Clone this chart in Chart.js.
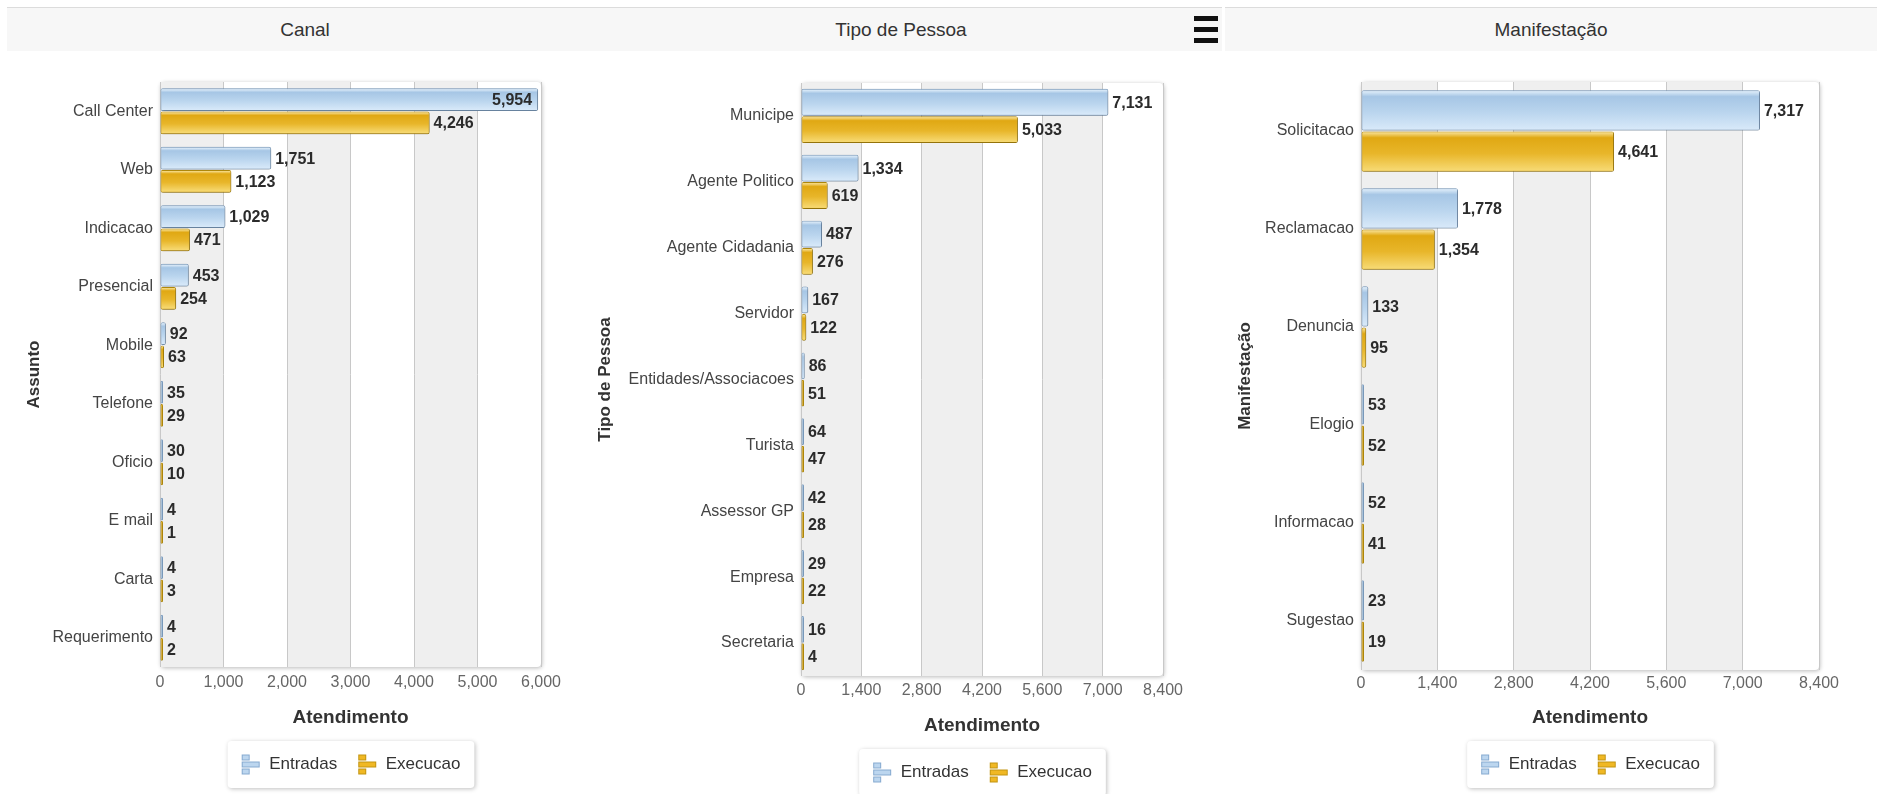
<!DOCTYPE html>
<html>
<head>
<meta charset="utf-8">
<script src="https://cdn.jsdelivr.net/npm/chart.js@4/dist/chart.umd.min.js"></script>
<style>
body { margin: 0; width: 1877px; height: 794px; overflow: hidden; background: #fff; font-family: "Liberation Sans", Arial, sans-serif; }
.hdr { position: absolute; top: 7px; height: 43px; background: #f7f7f7; border-top: 1px solid #dcdcdc; color: #333; font-size: 19px; line-height: 43px; text-align: center; }
.menu { position: absolute; left: 1194px; top: 16px; width: 24px; }
.menu div { height: 5px; background: #111; margin-bottom: 6px; }
canvas { position: absolute; }
</style>
</head>
<body>
<div class="hdr" style="left:7px;width:596px">Canal</div>
<div class="hdr" style="left:580px;width:642px">Tipo de Pessoa</div>
<div class="hdr" style="left:1225px;width:652px">Manifestação</div>
<div class="menu"><div></div><div></div><div></div></div>

<canvas id="c1" width="596" height="744" style="left:7px;top:50px"></canvas>
<canvas id="c2" width="637" height="751" style="left:585px;top:50px"></canvas>
<canvas id="c3" width="652" height="744" style="left:1225px;top:50px"></canvas>

<script>
// Canal
let canalLabels = ['Call Center', 'Web', 'Indicacao', 'Presencial', 'Mobile', 'Telefone', 'Oficio', 'E mail', 'Carta', 'Requerimento']
let canalEntradas = [5954, 1751, 1029, 453, 92, 35, 30, 4, 4, 4]
let canalExecucao = [4246, 1123, 471, 254, 63, 29, 10, 1, 3, 2]

// Tipo de Pessoa
let pessoaLabels = ['Municipe', 'Agente Politico', 'Agente Cidadania', 'Servidor', 'Entidades/Associacoes', 'Turista', 'Assessor GP', 'Empresa', 'Secretaria']
let pessoaEntradas = [7131, 1334, 487, 167, 86, 64, 42, 29, 16]
let pessoaExecucao = [5033, 619, 276, 122, 51, 47, 28, 22, 4]

// Manifestacao
let manifLabels = ['Solicitacao', 'Reclamacao', 'Denuncia', 'Elogio', 'Informacao', 'Sugestao']
let manifEntradas = [7317, 1778, 133, 53, 52, 23]
let manifExecucao = [4641, 1354, 95, 52, 41, 19]

let seriesNames = ['Entradas', 'Execucao']

Chart.defaults.font.family = '"Liberation Sans", Arial, sans-serif'

let grads = [
    ['#dfedf9', '#a6c6e5', '#bad5ee', '#d8e9f9'],
    ['#f8e093', '#e0a813', '#e8b62a', '#f7da74']
]

let legendIcon = function(fill, stroke) {
    let c = document.createElement('canvas')
    c.width = 20
    c.height = 22
    let g = c.getContext('2d')
    g.fillStyle = fill
    g.strokeStyle = stroke
    let rects = [[1.5, 1.5, 7, 5], [1.5, 8.5, 17, 5], [1.5, 15.5, 7, 5]]
    rects.forEach(r => { g.fillRect(r[0], r[1], r[2], r[3]); g.strokeRect(r[0], r[1], r[2], r[3]) })
    return c
}
let icons = [legendIcon('#bcd6ef', '#86aad0'), legendIcon('#f0b824', '#c39410')]

let panelPlugin = {
    id: 'panel',
    beforeDraw(chart) {
        let ctx = chart.ctx
        let a = chart.chartArea
        let x = chart.scales.x
        ctx.save()
        ctx.shadowColor = 'rgba(0,0,0,0.28)'
        ctx.shadowBlur = 4
        ctx.shadowOffsetX = 1
        ctx.shadowOffsetY = 1
        ctx.fillStyle = '#fff'
        ctx.beginPath()
        ctx.roundRect(a.left, a.top, a.width, a.height, 4)
        ctx.fill()
        ctx.restore()
        ctx.save()
        ctx.fillStyle = '#efefef'
        x.ticks.forEach((t, i) => {
            if (i % 2 === 1) {
                let l = x.getPixelForValue(x.ticks[i - 1].value)
                let r = x.getPixelForValue(t.value)
                ctx.fillRect(l, a.top, r - l, a.height)
            }
        })
        ctx.restore()

        // legend frame
        let boxes = chart.legend.legendHitBoxes
        if (boxes && boxes.length) {
            let l = Math.min(...boxes.map(b => b.left)) - 13
            let r = Math.max(...boxes.map(b => b.left + b.width)) + 14
            let t = Math.min(...boxes.map(b => b.top)) - 15
            let btm = Math.max(...boxes.map(b => b.top + b.height)) + 15
            ctx.save()
            ctx.shadowColor = 'rgba(0,0,0,0.25)'
            ctx.shadowBlur = 4
            ctx.shadowOffsetX = 1
            ctx.shadowOffsetY = 1
            ctx.fillStyle = '#fff'
            ctx.beginPath()
            ctx.roundRect(l, t, r - l, btm - t, 4)
            ctx.fill()
            ctx.restore()
        }
    },
    beforeDatasetsDraw(chart) {
        let ctx = chart.ctx
        ctx.save()
        ctx.shadowColor = 'rgba(0,0,0,0.3)'
        ctx.shadowBlur = 3
        ctx.shadowOffsetX = 1
        ctx.shadowOffsetY = 1
    },
    afterDatasetsDraw(chart) {
        let ctx = chart.ctx
        ctx.restore()
        let area = chart.chartArea
        chart.data.datasets.forEach((ds, di) => {
            let meta = chart.getDatasetMeta(di)
            meta.data.forEach((el, i) => {
                let p = el.getProps(['x', 'y', 'base', 'height'], true)
                let top = p.y - p.height / 2 + 1
                let bot = p.y + p.height / 2 - 1
                let l = p.base + 1
                let r = p.x - 1
                if (r - l > 1) {
                    let g = ctx.createLinearGradient(0, top, 0, bot)
                    g.addColorStop(0, grads[di][0])
                    g.addColorStop(0.14, grads[di][1])
                    g.addColorStop(0.55, grads[di][2])
                    g.addColorStop(1, grads[di][3])
                    ctx.fillStyle = g
                    ctx.fillRect(l, top, r - l, bot - top)
                }
                // value label
                let txt = ds.data[i].toLocaleString('en-US')
                ctx.font = 'bold 16px "Liberation Sans", Arial, sans-serif'
                ctx.fillStyle = '#2b2b2b'
                ctx.textBaseline = 'middle'
                let w = ctx.measureText(txt).width
                if (p.x + 6 + w > area.right - 2) {
                    ctx.textAlign = 'right'
                    ctx.fillText(txt, p.x - 6, p.y + 1)
                } else {
                    ctx.textAlign = 'left'
                    ctx.fillText(txt, p.x + 4, p.y + 1)
                }
            })
        })
    }
}

let makeChart = function(id, labels, entradas, execucao, cfg) {
    return new Chart(document.getElementById(id), {
        type: 'bar',
        data: {
            labels: labels,
            datasets: [
                {
                    label: seriesNames[0],
                    data: entradas,
                    backgroundColor: '#b0cdea',
                    borderColor: '#7e9fc2',
                    borderWidth: 1,
                    borderRadius: 2,
                    borderSkipped: false,
                    minBarLength: 3,
                    categoryPercentage: cfg.pct,
                    barPercentage: 0.98
                },
                {
                    label: seriesNames[1],
                    data: execucao,
                    backgroundColor: '#e5b020',
                    borderColor: '#b58c0a',
                    borderWidth: 1,
                    borderRadius: 2,
                    borderSkipped: false,
                    minBarLength: 3,
                    categoryPercentage: cfg.pct,
                    barPercentage: 0.98
                }
            ]
        },
        options: {
            indexAxis: 'y',
            responsive: false,
            animation: false,
            devicePixelRatio: 1,
            layout: { padding: cfg.padding },
            scales: {
                x: {
                    min: 0,
                    max: cfg.max,
                    ticks: {
                        stepSize: cfg.step,
                        color: '#666',
                        font: { size: 16 },
                        padding: cfg.tp,
                        callback: v => v.toLocaleString('en-US')
                    },
                    grid: { color: '#c8c8c8', drawTicks: false },
                    border: { display: false },
                    title: {
                        display: true,
                        text: 'Atendimento',
                        color: '#333',
                        font: { size: 19, weight: 'bold' },
                        padding: { top: 4, bottom: 7 }
                    },
                    afterFit: s => { s.height = cfg.xh }
                },
                y: {
                    ticks: { color: '#444', font: { size: 16 }, padding: 7 },
                    grid: { display: false, drawTicks: false },
                    border: { display: false },
                    title: {
                        display: true,
                        text: cfg.title,
                        color: '#333',
                        font: { size: 17, weight: 'bold' },
                        padding: { top: 4, bottom: 4 }
                    },
                    afterFit: s => { s.width = cfg.yw }
                }
            },
            plugins: {
                tooltip: { enabled: false },
                legend: {
                    position: 'bottom',
                    fullSize: false,
                    labels: {
                        usePointStyle: true,
                        pointStyleWidth: 20,
                        color: '#333',
                        font: { size: 17 },
                        padding: 20,
                        generateLabels: chart => chart.data.datasets.map((ds, i) => ({
                            text: ds.label,
                            pointStyle: icons[i],
                            fillStyle: ds.backgroundColor,
                            strokeStyle: ds.borderColor,
                            lineWidth: 0,
                            fontColor: '#333',
                            hidden: false,
                            datasetIndex: i
                        }))
                    }
                }
            }
        },
        plugins: [panelPlugin]
    })
}

makeChart('c1', canalLabels, canalEntradas, canalExecucao, {
    max: 6000, step: 1000, title: 'Assunto', pct: 0.79, yw: 140, xh: 69, tp: 6,
    padding: { left: 13, right: 62, top: 32, bottom: 11 }
})
makeChart('c2', pessoaLabels, pessoaEntradas, pessoaExecucao, {
    max: 8400, step: 1400, title: 'Tipo de Pessoa', pct: 0.83, yw: 210, xh: 68, tp: 5,
    padding: { left: 6, right: 59, top: 33, bottom: 10 }
})
makeChart('c3', manifLabels, manifEntradas, manifExecucao, {
    max: 8400, step: 1400, title: 'Manifestação', pct: 0.84, yw: 130, xh: 66, tp: 4,
    padding: { left: 6, right: 58, top: 32, bottom: 11 }
})
</script>
</body>
</html>
